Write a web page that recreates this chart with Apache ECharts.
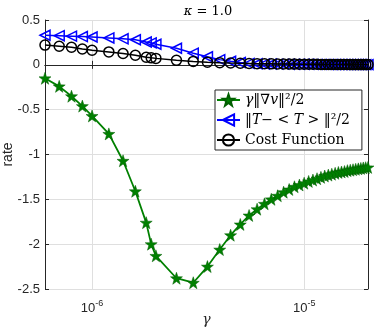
<!DOCTYPE html>
<html>
<head>
<meta charset="utf-8">
<script src="https://cdn.jsdelivr.net/npm/echarts@6/dist/echarts.min.js"></script>
<style>
html, body { margin: 0; padding: 0; background: #fff; }
#chart { width: 374px; height: 332px; }
</style>
</head>
<body>
<div id="chart"></div>
<script>
// gamma values (x, log scale)
var gamma = [6e-7, 7e-7, 8e-7, 9e-7, 1e-6, 1.2e-6, 1.4e-6, 1.6e-6, 1.8e-6, 1.9e-6, 2e-6,
  2.5e-6, 3e-6, 3.5e-6, 4e-6, 4.5e-6, 5e-6, 5.5e-6, 6e-6, 6.5e-6,
  7e-6, 7.5e-6, 8e-6, 8.5e-6, 9e-6, 9.5e-6,
  1e-5, 1.05e-5, 1.1e-5, 1.15e-5, 1.2e-5, 1.25e-5, 1.3e-5, 1.35e-5, 1.4e-5, 1.45e-5,
  1.5e-5, 1.55e-5, 1.6e-5, 1.65e-5, 1.7e-5, 1.75e-5, 1.8e-5, 1.85e-5, 1.9e-5, 1.95e-5, 2e-5]

var gradTerm = [-0.15, -0.24, -0.35, -0.46, -0.57, -0.77, -1.07, -1.41, -1.76, -2.0, -2.13,
  -2.38, -2.43, -2.25, -2.06, -1.9, -1.78, -1.68, -1.61, -1.55,
  -1.5, -1.46, -1.42, -1.39, -1.36, -1.34,
  -1.32, -1.3, -1.285, -1.27, -1.255, -1.24, -1.23, -1.22, -1.21, -1.2,
  -1.195, -1.19, -1.18, -1.175, -1.17, -1.165, -1.16, -1.155, -1.15, -1.147, -1.144]

var varTerm = [0.33, 0.325, 0.32, 0.315, 0.31, 0.3, 0.29, 0.28, 0.255, 0.245, 0.23,
  0.185, 0.13, 0.09, 0.058, 0.04, 0.026, 0.016, 0.012, 0.01,
  0.009, 0.008, 0.008, 0.007, 0.007, 0.006,
  0.006, 0.006, 0.005, 0.005, 0.005, 0.005, 0.004, 0.004, 0.004, 0.004,
  0.004, 0.003, 0.003, 0.003, 0.003, 0.003, 0.003, 0.003, 0.002, 0.002, 0.002]

var costFn = [0.22, 0.207, 0.196, 0.177, 0.163, 0.144, 0.126, 0.107, 0.085, 0.078, 0.072,
  0.05, 0.038, 0.03, 0.024, 0.02, 0.017, 0.015, 0.013, 0.012,
  0.011, 0.01, 0.009, 0.008, 0.008, 0.007,
  0.007, 0.006, 0.006, 0.006, 0.005, 0.005, 0.005, 0.005, 0.004, 0.004,
  0.004, 0.004, 0.004, 0.003, 0.003, 0.003, 0.003, 0.003, 0.003, 0.003, 0.003]

// dotted minor grid positions on the log axis
var minorTicks = [7e-7, 8e-7, 9e-7, 2e-6, 3e-6, 4e-6, 5e-6, 6e-6, 7e-6, 8e-6, 9e-6]

var legendText = {
  grad: '{i|γ}‖∇{i|v}‖²/2',
  var: '‖{i|T}− < {i|T} > ‖²/2',
  cost: 'Cost Function'
}

var axisColor = '#262626'
var gridColor = '#dfdfdf'
var sans = 'Liberation Sans, Arial, sans-serif'
var serif = 'DejaVu Serif, serif'
var star = 'path://M0,-10 L2.35,-3.24 L9.51,-3.09 L3.8,1.24 L5.88,8.09 L0,4 L-5.88,8.09 L-3.8,1.24 L-9.51,-3.09 L-2.35,-3.24 Z'

function pairs(ys) {
  return gamma.map(function (g, i) { return [g, ys[i]] })
}

var chart = echarts.init(document.getElementById('chart'))

chart.setOption({
  animation: false,
  title: {
    text: '{i|κ} = 1.0',
    left: 203,
    textAlign: 'center',
    top: 0,
    textStyle: {
      fontFamily: serif, fontSize: 13, fontWeight: 'normal', color: '#000',
      rich: { i: { fontFamily: serif, fontStyle: 'italic', fontSize: 13 } }
    }
  },
  // keep the plot box fixed, labels may sit outside it
  grid: { left: 45, right: 6, top: 20, bottom: 43, containLabel: false, outerBoundsMode: 'none' },
  legend: {
    data: ['grad', 'var', 'cost'],
    orient: 'vertical',
    left: 215,
    top: 90,
    itemWidth: 23,
    itemHeight: 14,
    itemGap: 6,
    padding: [3, 12, 3, 1],
    borderColor: axisColor,
    borderWidth: 1,
    borderRadius: 0,
    backgroundColor: '#fff',
    formatter: function (name) { return legendText[name] },
    textStyle: {
      fontFamily: serif, fontSize: 14, color: '#000',
      rich: { i: { fontFamily: serif, fontStyle: 'italic', fontSize: 14 } }
    }
  },
  xAxis: [
    {
      type: 'log',
      logBase: 10,
      min: 6e-7,
      max: 2e-5,
      position: 'bottom',
      name: 'γ',
      nameLocation: 'middle',
      nameGap: 24,
      nameMoveOverlap: false,
      nameTextStyle: { fontFamily: serif, fontStyle: 'italic', fontSize: 14, color: axisColor },
      axisLine: { show: true, lineStyle: { color: axisColor, width: 1 } },
      axisTick: { show: true, inside: true, length: 4, lineStyle: { color: axisColor } },
      axisLabel: {
        showMinLabel: false,
        showMaxLabel: false,
        margin: 10,
        formatter: function (v) {
          return '{b|10}{s|' + Math.round(Math.log10(v)) + '}'
        },
        rich: {
          b: { fontFamily: sans, fontSize: 13, color: axisColor },
          s: { fontFamily: sans, fontSize: 9, color: axisColor, padding: [0, 0, 9, 0] }
        }
      },
      splitLine: { show: true, lineStyle: { color: gridColor, width: 1 } }
    },
    {
      type: 'log',
      logBase: 10,
      min: 6e-7,
      max: 2e-5,
      position: 'top',
      axisLine: { show: true, lineStyle: { color: axisColor, width: 1 } },
      axisTick: { show: true, inside: true, length: 4, lineStyle: { color: axisColor } },
      axisLabel: { show: false },
      splitLine: { show: false }
    }
  ],
  yAxis: [
    {
      type: 'value',
      min: -2.5,
      max: 0.5,
      interval: 0.5,
      position: 'left',
      name: 'rate',
      nameLocation: 'middle',
      nameGap: 30,
      nameMoveOverlap: false,
      nameTextStyle: { fontFamily: sans, fontSize: 14, color: axisColor },
      axisLine: { show: true, lineStyle: { color: axisColor, width: 1 } },
      axisTick: { show: true, inside: true, length: 4, lineStyle: { color: axisColor } },
      axisLabel: { fontFamily: sans, fontSize: 13, color: axisColor, margin: 5 },
      splitLine: { show: true, lineStyle: { color: gridColor, width: 1 } }
    },
    {
      type: 'value',
      min: -2.5,
      max: 0.5,
      interval: 0.5,
      position: 'right',
      axisLine: { show: true, lineStyle: { color: axisColor, width: 1 } },
      axisTick: { show: true, inside: true, length: 4, lineStyle: { color: axisColor } },
      axisLabel: { show: false },
      splitLine: { show: false }
    }
  ],
  series: [
    {
      // only carries the dotted minor grid
      name: 'minor',
      type: 'line',
      data: [],
      silent: true,
      z: 1,
      markLine: {
        silent: true,
        symbol: ['none', 'none'],
        label: { show: false },
        lineStyle: { type: 'dotted', color: '#b8b8b8', width: 1 },
        data: minorTicks.map(function (v) { return { xAxis: v } })
      }
    },
    {
      name: 'grad',
      type: 'line',
      data: pairs(gradTerm),
      showAllSymbol: true,
      symbol: star,
      symbolSize: 12,
      lineStyle: { color: '#008000', width: 1.8 },
      itemStyle: { color: '#008000', borderColor: '#005f00', borderWidth: 0.5 },
      z: 3
    },
    {
      name: 'var',
      type: 'line',
      data: pairs(varTerm),
      showAllSymbol: true,
      symbol: 'triangle',
      symbolRotate: 90,
      symbolSize: [10, 10],
      lineStyle: { color: '#0000ff', width: 1.5 },
      itemStyle: { color: 'rgba(255,255,255,0)', borderColor: '#0000ff', borderWidth: 1.5 },
      z: 4
    },
    {
      name: 'cost',
      type: 'line',
      data: pairs(costFn),
      showAllSymbol: true,
      symbol: 'circle',
      symbolSize: 10,
      lineStyle: { color: '#000', width: 1.5 },
      itemStyle: { color: 'rgba(255,255,255,0)', borderColor: '#000', borderWidth: 1.5 },
      z: 5
    }
  ]
})
</script>
</body>
</html>
